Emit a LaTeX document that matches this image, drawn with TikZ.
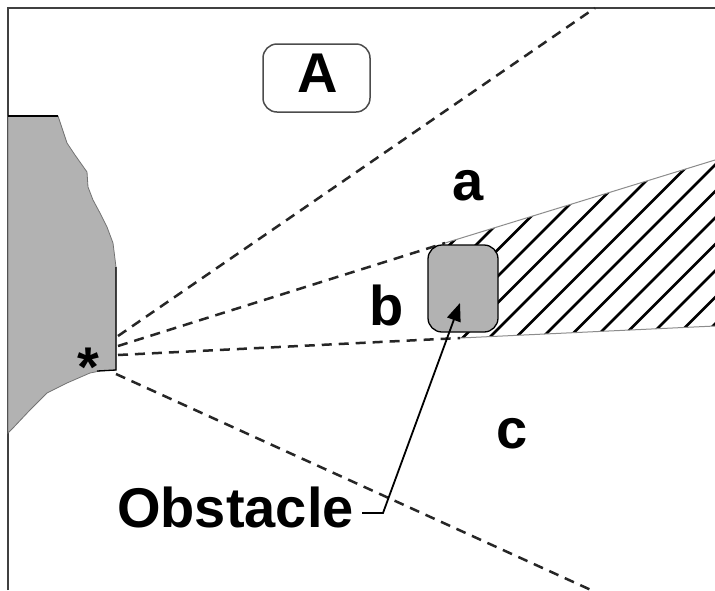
\documentclass[tikz,border=0pt]{standalone}
\usepackage{fontspec}
\setmainfont{Liberation Sans}
\usetikzlibrary{arrows.meta}
\begin{document}
\begin{tikzpicture}[x=1pt,y=-1pt,
  frame/.style={line width=2.6pt,draw=black!75},
  wall/.style={fill=black!30,draw=black!55,line width=0.8pt},
  walledge/.style={draw=black,line width=1.3pt},
  ray/.style={dashed,dash pattern=on 10pt off 7pt,line width=2.5pt,draw=black!85},
  thinedge/.style={draw=black!45,line width=1pt},
  hatch/.style={line width=2.8pt,draw=black},
  obst/.style={fill=black!30,draw=black,line width=1.3pt,rounded corners=14pt,minimum width=70pt,minimum height=87pt,inner sep=0pt},
  abox/.style={draw=black!70,line width=1.5pt,rounded corners=14pt,minimum width=107pt,minimum height=68pt,inner sep=0pt},
  lab/.style={font=\fontsize{56}{60}\selectfont\bfseries,inner sep=0pt,text=black},
  arrline/.style={line width=1.8pt,draw=black},
  tip/.style={-{Triangle[length=18pt,width=14pt]}}
]
\useasboundingbox (0,0) rectangle (715,590);
\fill[white] (0,0) rectangle (715,590);

% frame
\coordinate (fl) at (8,590);
\coordinate (fc) at (8,8);
\coordinate (fr) at (715,8);
\draw[frame] (fl) -- (fc) -- (fr);

% wall region
\path[wall] (8,116) -- (58,116) -- (60,122) -- (67,143) -- (75,155) -- (87,172) -- (88,187)
  -- (93,200) -- (100,213) -- (107,227) -- (113,243) -- (116,267) -- (116,370) -- (100,371)
  -- (90,373) -- (67,383) -- (47,393) -- (30,410) -- (13,428) -- (8,433) -- cycle;
\draw[walledge] (8,116) -- (58,116);
\draw[walledge] (116,267) -- (116,370) -- (97,371);
\node[lab,anchor=base] (star) at (88.5,386) {*};

% rays
\coordinate (s1) at (118,336);
\coordinate (s2) at (118,346);
\coordinate (s3) at (118,355);
\coordinate (s4) at (116,374);
\coordinate (e1) at (595,8);
\coordinate (e2) at (445,243);
\coordinate (e3) at (460,338);
\coordinate (e4) at (591,590);
\coordinate (f2) at (715,160);
\coordinate (f3) at (715,326);

% hatched shadow
\begin{scope}
\clip (e2) -- (f2) -- (f3) -- (e3) -- cycle;
\foreach \k in {-6,...,9} {
  \pgfmathsetmacro\c{827+26.5*\k}
  \draw[hatch] (\c-150,150) -- (\c-350,350);
}
\end{scope}
\draw[thinedge] (e2) -- (f2);
\draw[thinedge] (e3) -- (f3);

\draw[ray] (s1) -- (e1);
\draw[ray] (s2) -- (e2);
\draw[ray] (s3) -- (e3);
\draw[ray] (s4) -- (e4);

% obstacle
\node[obst] (obs) at (463,288.5) {};

% labels
\node[abox] (Abox) at (316.5,78) {};
\node[lab] (A) at (318,73.5) {A};
\node[lab,anchor=base] (la) at (468,200) {a};
\node[lab,anchor=base] (lb) at (387,325) {b};
\node[lab,anchor=base] (lc) at (512,448) {c};
\node[lab,anchor=base west] (lbl) at (117,527) {Obstacle};

% arrow
\coordinate (start) at (362,513);
\coordinate (bend) at (383,513);
\coordinate (tipc) at (460,303);
\draw[arrline,tip] (start) -- (bend) -- (tipc);
\end{tikzpicture}
\end{document}
